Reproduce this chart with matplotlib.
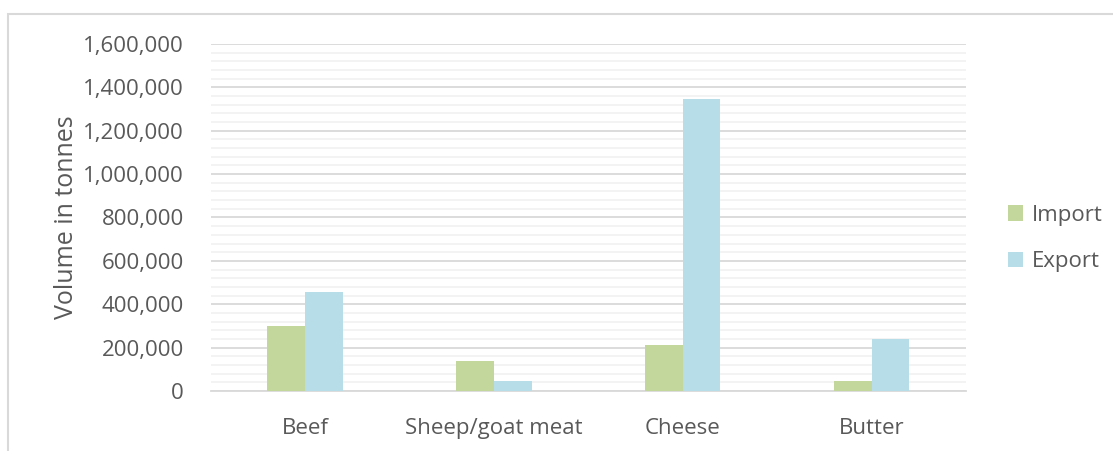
import matplotlib.pyplot as plt
import numpy as np
from matplotlib.patches import Rectangle
from matplotlib.ticker import FuncFormatter, MultipleLocator

categories = ["Beef", "Sheep/goat meat", "Cheese", "Butter"]
import_vals = [300000, 140000, 211000, 46000]
export_vals = [455000, 46000, 1346000, 240000]

W, H = 1113, 451
plt.rcParams['font.family'] = ['Open Sans', 'DejaVu Sans']
text_color = '#595959'

fig = plt.figure(figsize=(W / 100, H / 100), dpi=100)
# outer chart border (cropped chart)
fig.patches.append(Rectangle((8 / W, -0.1), 1.2, 1 - 14 / H + 0.1,
                             transform=fig.transFigure, fill=False,
                             edgecolor='#d9d9d9', linewidth=1.5))

ax = fig.add_axes([210.5 / W, 1 - 391 / H, (966 - 210.5) / W, (391 - 44) / H])

x = np.arange(len(categories))
bw = 0.2
ax.bar(x - bw / 2, import_vals, bw, color='#c3d69b', label='Import', zorder=3)
ax.bar(x + bw / 2, export_vals, bw, color='#b7dde8', label='Export', zorder=3)

ax.set_xlim(-0.5, len(categories) - 0.5)
ax.set_ylim(0, 1600000)
ax.yaxis.set_major_locator(MultipleLocator(200000))
ax.yaxis.set_minor_locator(MultipleLocator(40000))
ax.yaxis.set_major_formatter(FuncFormatter(lambda v, p: f"{int(v):,}"))
ax.grid(axis='y', which='major', color='#d9d9d9', linewidth=1.3, zorder=0)
ax.grid(axis='y', which='minor', color='#f2f2f2', linewidth=1.3, zorder=0)
ax.set_axisbelow(True)

for s in ['top', 'right', 'left']:
    ax.spines[s].set_visible(False)
ax.spines['bottom'].set_color('#d9d9d9')
ax.spines['bottom'].set_linewidth(1.3)

ax.set_xticks(x)
ax.set_xticklabels(categories)
ax.tick_params(axis='both', which='both', length=0, colors=text_color, labelsize=16)
ax.tick_params(axis='y', pad=19)
ax.tick_params(axis='x', pad=19.5)

ax.set_ylabel('Volume in tonnes', fontsize=18, color=text_color, labelpad=3)

ax.legend(loc='center left', bbox_to_anchor=(1.029, 0.44), frameon=False,
          fontsize=16, labelcolor=text_color, handlelength=0.7, handleheight=0.7,
          labelspacing=1.15, handletextpad=0.4)

fig.savefig('out.png', dpi=100)
